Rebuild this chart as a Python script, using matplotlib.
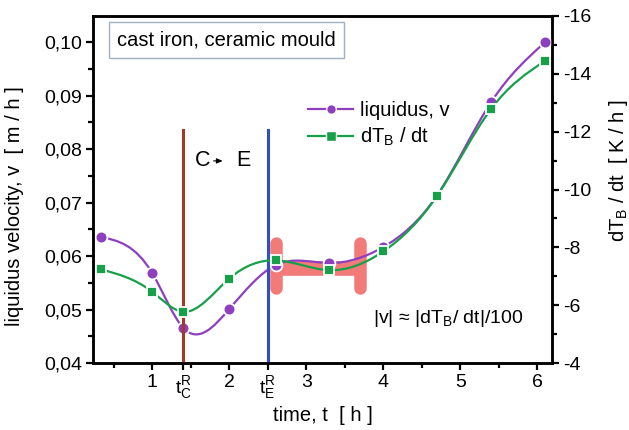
import numpy as np
import matplotlib
matplotlib.use("Agg")
import matplotlib.pyplot as plt
from matplotlib.path import Path
from matplotlib.patches import PathPatch
from matplotlib.lines import Line2D
from matplotlib.ticker import FixedLocator

plt.rcParams['font.family'] = ['Liberation Sans', 'DejaVu Sans']
plt.rcParams['mathtext.fontset'] = 'custom'
plt.rcParams['mathtext.rm'] = 'Liberation Sans'
plt.rcParams['mathtext.it'] = 'Liberation Sans'

# ---- data ----
time_h = [0.33, 1.0, 1.4, 2.0, 2.6, 3.3, 4.0, 4.7, 5.4, 6.1]
liquidus_v = [0.0636, 0.0568, 0.0466, 0.0501, 0.0583, 0.0587, 0.0617, 0.0714, 0.0888, 0.1000]
dTB_dt = [-7.24, -6.46, -5.77, -6.92, -7.55, -7.21, -7.86, -9.79, -12.79, -14.45]
t_C_R = 1.4
t_E_R = 2.5
y_left_ticks = [0.04, 0.05, 0.06, 0.07, 0.08, 0.09, 0.10]
y_right_ticks = [-4, -6, -8, -10, -12, -14, -16]
plateau_x = [2.61, 3.70]
plateau_band = [0.0564, 0.0593]
plateau_bar = [0.0540, 0.0624]

PURPLE = '#8e3fc0'
GREEN = '#16a04a'
BROWN = '#a3392b'
BLUE = '#2f4fc8'
PINK = '#f27a78'
FS = 14.5


def spline_path(x, y):
    """Natural cubic spline through points, expressed as Bezier segments."""
    x = np.asarray(x, float); y = np.asarray(y, float)
    n = len(x)
    h = np.diff(x)
    A = np.zeros((n, n)); r = np.zeros(n)
    A[0, 0] = 2; A[0, 1] = 1; r[0] = 3 * (y[1] - y[0]) / h[0]
    A[-1, -2] = 1; A[-1, -1] = 2; r[-1] = 3 * (y[-1] - y[-2]) / h[-1]
    for i in range(1, n - 1):
        A[i, i - 1] = 1 / h[i - 1]
        A[i, i] = 2 * (1 / h[i - 1] + 1 / h[i])
        A[i, i + 1] = 1 / h[i]
        r[i] = 3 * ((y[i] - y[i - 1]) / h[i - 1] ** 2 + (y[i + 1] - y[i]) / h[i] ** 2)
    m = np.linalg.solve(A, r)
    verts = [(x[0], y[0])]
    codes = [Path.MOVETO]
    for i in range(n - 1):
        d = h[i] / 3
        verts += [(x[i] + d, y[i] + d * m[i]), (x[i + 1] - d, y[i + 1] - d * m[i + 1]), (x[i + 1], y[i + 1])]
        codes += [Path.CURVE4] * 3
    return Path(verts, codes)


fig = plt.figure(figsize=(6.29, 4.30), dpi=100)
ax = fig.add_axes([93 / 629, 1 - 363 / 430, (552 - 93) / 629, (363 - 16) / 430])
ax2 = ax.twinx()

ax.set_xlim(0.23, 6.19)
ax.set_ylim(0.04, 0.1049)
ax2.set_ylim(-4, -16.0)

# plateau marker (pink)
ax.plot(plateau_x, [np.mean(plateau_band)] * 2, color=PINK, lw=10.5, solid_capstyle='butt', zorder=1)
for xp in plateau_x:
    ax.plot([xp, xp], plateau_bar, color=PINK, lw=9, solid_capstyle='round', zorder=1)

# vertical lines
ax.plot([t_C_R, t_C_R], [0.04, 0.0836], color=BROWN, lw=2.2, zorder=4)
ax.plot([t_E_R, t_E_R], [0.04, 0.0836], color=BLUE, lw=2.2, zorder=4)

# curves
ax.add_patch(PathPatch(spline_path(time_h, liquidus_v), fill=False, edgecolor=PURPLE, lw=1.6, zorder=2))
ax.plot(time_h, liquidus_v, ls='none', marker='o', ms=8.5, mfc=PURPLE, mec='white', mew=1.3, zorder=3)
ax2.add_patch(PathPatch(spline_path(time_h, dTB_dt), fill=False, edgecolor=GREEN, lw=1.6, zorder=2))
ax2.plot(time_h, dTB_dt, ls='none', marker='s', ms=7.5, mfc=GREEN, mec='white', mew=1.3, zorder=3)

# ticks
xt = [1, t_C_R, 2, t_E_R, 3, 4, 5, 6]
xl = ['1', r'$\mathregular{t_C^R}$', '2', r'$\mathregular{t_E^R}$', '3', '4', '5', '6']
ax.set_xticks(xt)
ax.set_xticklabels(xl)
ax.xaxis.set_minor_locator(FixedLocator([0.5, 1.5, 3.5, 4.5, 5.5]))
ax.set_yticks(y_left_ticks)
ax.set_yticklabels([('%.2f' % v).replace('.', ',') for v in y_left_ticks])
ax.yaxis.set_minor_locator(FixedLocator([0.045, 0.055, 0.065, 0.075, 0.085, 0.095]))
ax2.set_yticks(y_right_ticks)
ax2.set_yticklabels([str(v) for v in y_right_ticks])
ax2.yaxis.set_minor_locator(FixedLocator([-5, -7, -9, -11, -13, -15]))

for a in (ax, ax2):
    for s in a.spines.values():
        s.set_linewidth(1.8)
    a.tick_params(which='major', length=5, width=1.6, labelsize=14, direction='out')
    a.tick_params(which='minor', length=3.5, width=1.6, direction='out')
ax.tick_params(axis='x', pad=3)
ax.tick_params(axis='y', pad=3)
ax2.tick_params(axis='y', pad=3)

ax.set_xlabel('time, t  [ h ]', fontsize=FS)
ax.xaxis.set_label_coords(0.5, -0.125)
ax.set_ylabel('liquidus velocity, v  [ m / h ]', fontsize=FS)
ax.yaxis.set_label_coords(-0.150, 0.452)
ax2.set_ylabel(r'dT$_\mathregular{B}$ / dt  [ K / h ]', fontsize=FS)
ax2.yaxis.set_label_coords(1.12, 0.553)

# title box
ax.text(0.545, 0.1004, 'cast iron, ceramic mould', fontsize=FS, va='center', ha='left',
        transform=ax.transData, zorder=6,
        bbox=dict(boxstyle='square,pad=0.42', fc='white', ec='#9fb0c0', lw=1.0))

# C -> E
ax.text(1.65, 0.0778, 'C', fontsize=15.5, ha='center', va='center')
ax.text(2.18, 0.0778, 'E', fontsize=15.5, ha='center', va='center')
ax.annotate('', xy=(1.95, 0.0778), xytext=(1.76, 0.0778),
            arrowprops=dict(arrowstyle='-|>,head_length=0.35,head_width=0.15', color='black', lw=0.8))

ax.text(4.84, 0.0484, '|v| \u2248 |dT$_\\mathregular{B}$/ dt|/100', fontsize=14, ha='center', va='center')

# legend
handles = [Line2D([], [], color=PURPLE, lw=1.6, marker='o', ms=7, mec='white', mew=1.0),
           Line2D([], [], color=GREEN, lw=1.6, marker='s', ms=6.5, mec='white', mew=1.0)]
fig.legend(handles, ['liquidus, v', r'dT$_\mathregular{B}$ / dt'], loc='upper left',
           bbox_to_anchor=(298 / 629, 1 - 91 / 430), bbox_transform=fig.transFigure,
           frameon=False, fontsize=FS, handlelength=2.25, handletextpad=0.35,
           borderpad=0, labelspacing=0.3)

fig.savefig('out.png', dpi=100)
